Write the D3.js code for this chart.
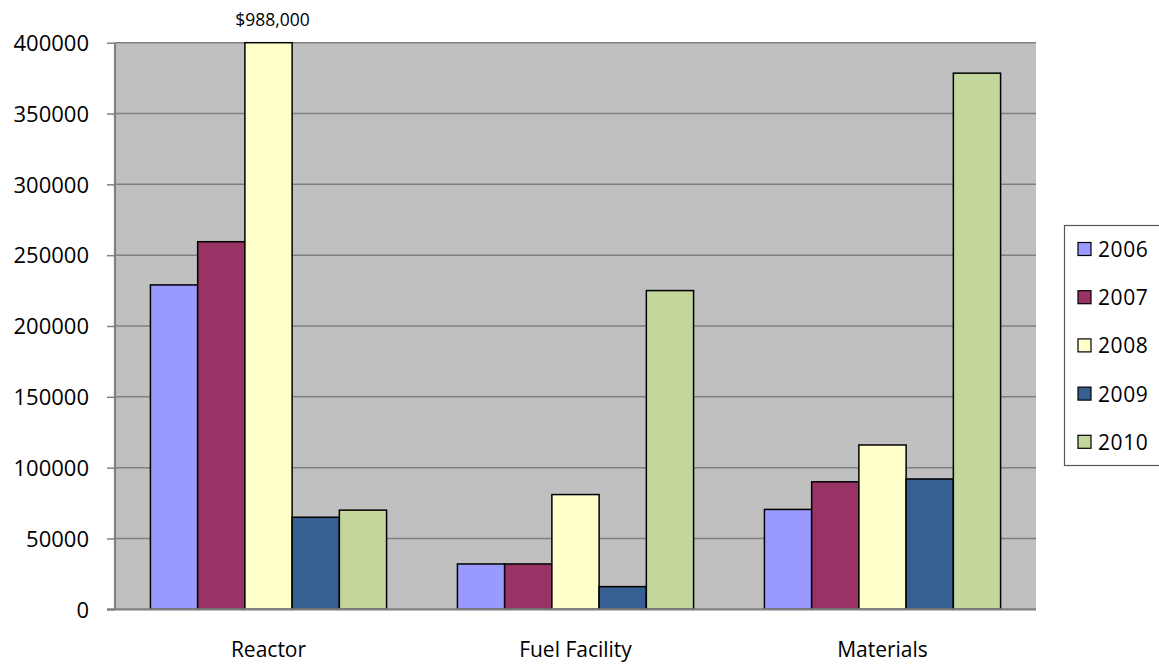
<!DOCTYPE html>
<html>
<head>
<meta charset="utf-8">
<script src="https://cdn.jsdelivr.net/npm/d3@7"></script>
<style>
  html, body { margin: 0; padding: 0; background: #fff; }
  text { font-family: "Open Sans", "Noto Sans", sans-serif; fill: #000; }
</style>
</head>
<body>
<svg id="chart" width="1159" height="664"></svg>
<script>
// Chart data
const categories = ["Reactor", "Fuel Facility", "Materials"];
const years = ["2006", "2007", "2008", "2009", "2010"];
const colors = ["#9999FF", "#993366", "#FFFFCC", "#366092", "#C3D69B"];
const values2006 = [229000, 32000, 70500];
const values2007 = [259500, 32000, 90000];
const values2008 = [988000, 81000, 116000];
const values2009 = [65000, 16000, 92000];
const values2010 = [70000, 225000, 378500];
const yTicks = [0, 50000, 100000, 150000, 200000, 250000, 300000, 350000, 400000];
const overflowLabel = "$988,000";

const series = [values2006, values2007, values2008, values2009, values2010];

const svg = d3.select("#chart");

// Plot area
const plotLeft = 115, plotRight = 1036, plotTop = 42.7, plotBottom = 609.3;

const x0 = d3.scaleBand()
    .domain(categories)
    .range([plotLeft, plotRight]);

// Excel style: gap width 150% of a bar
const step = x0.bandwidth();
const gap = step * 1.5 / 6.5;
const x1 = d3.scaleBand()
    .domain(years)
    .range([gap / 2, step - gap / 2]);

const y = d3.scaleLinear()
    .domain([0, 400000])
    .range([plotBottom, plotTop])
    .clamp(true);

// Background
svg.append("rect")
    .attr("x", plotLeft)
    .attr("y", plotTop)
    .attr("width", plotRight - plotLeft)
    .attr("height", plotBottom - plotTop)
    .attr("fill", "#C0C0C0");

// Gridlines
svg.append("g")
    .selectAll("line")
    .data(yTicks.filter(d => d > 0))
    .enter().append("line")
    .attr("x1", plotLeft)
    .attr("x2", plotRight)
    .attr("y1", d => y(d))
    .attr("y2", d => y(d))
    .attr("stroke", "#808080")
    .attr("stroke-width", 1.5);

// Bars
const rows = [];
categories.forEach((c, i) => {
    years.forEach((yr, j) => {
        rows.push({ category: c, year: yr, value: series[j][i], color: colors[j] });
    });
});

svg.append("g")
    .selectAll("rect")
    .data(rows)
    .enter().append("rect")
    .attr("x", d => x0(d.category) + x1(d.year))
    .attr("y", d => y(d.value))
    .attr("width", x1.bandwidth())
    .attr("height", d => y(0) - y(d.value))
    .attr("fill", d => d.color)
    .attr("stroke", "#000")
    .attr("stroke-width", 1.5);

// Overflow label for the clipped bar
const clipped = rows.find(d => d.value > y.domain()[1]);
svg.append("text")
    .attr("x", x0(clipped.category) + x1(clipped.year) + x1.bandwidth() / 2 + 4)
    .attr("y", 19)
    .attr("text-anchor", "middle")
    .attr("dominant-baseline", "central")
    .style("font-size", "17.5px")
    .text(overflowLabel);

// Y axis
const yAxis = svg.append("g")
    .attr("transform", `translate(${plotLeft},0)`)
    .call(d3.axisLeft(y).tickValues(yTicks).tickSize(8).tickPadding(18).tickFormat(d3.format("d")));
yAxis.select(".domain").attr("stroke", "#808080").attr("stroke-width", 2.2)
    .attr("d", `M0,${plotTop}V${plotBottom}`);
yAxis.selectAll(".tick line").attr("stroke", "#808080").attr("stroke-width", 1.5);
yAxis.selectAll(".tick text").style("font-size", "22px").attr("dy", "0.35em");

// Baseline
svg.append("line")
    .attr("x1", plotLeft - 8)
    .attr("x2", plotRight)
    .attr("y1", y(0))
    .attr("y2", y(0))
    .attr("stroke", "#808080")
    .attr("stroke-width", 2.2);

// X labels
svg.append("g")
    .selectAll("text")
    .data(categories)
    .enter().append("text")
    .attr("x", d => x0(d) + step / 2)
    .attr("y", 649)
    .attr("text-anchor", "middle")
    .attr("dominant-baseline", "central")
    .style("font-size", "21px")
    .text(d => d);

// Legend
const legend = svg.append("g");
legend.append("rect")
    .attr("x", 1064.5)
    .attr("y", 225.5)
    .attr("width", 110)
    .attr("height", 240)
    .attr("fill", "#fff")
    .attr("stroke", "#555")
    .attr("stroke-width", 1.2);

const item = legend.selectAll("g.item")
    .data(years)
    .enter().append("g")
    .attr("class", "item")
    .attr("transform", (d, i) => `translate(1078,${249 + i * 48.2})`);

item.append("rect")
    .attr("x", 0)
    .attr("y", -6.5)
    .attr("width", 13)
    .attr("height", 13)
    .attr("fill", (d, i) => colors[i])
    .attr("stroke", "#000")
    .attr("stroke-width", 1.2);

item.append("text")
    .attr("x", 20)
    .attr("y", 0)
    .attr("dominant-baseline", "central")
    .style("font-size", "21px")
    .style("letter-spacing", "0.6px")
    .text(d => d);
</script>
</body>
</html>
